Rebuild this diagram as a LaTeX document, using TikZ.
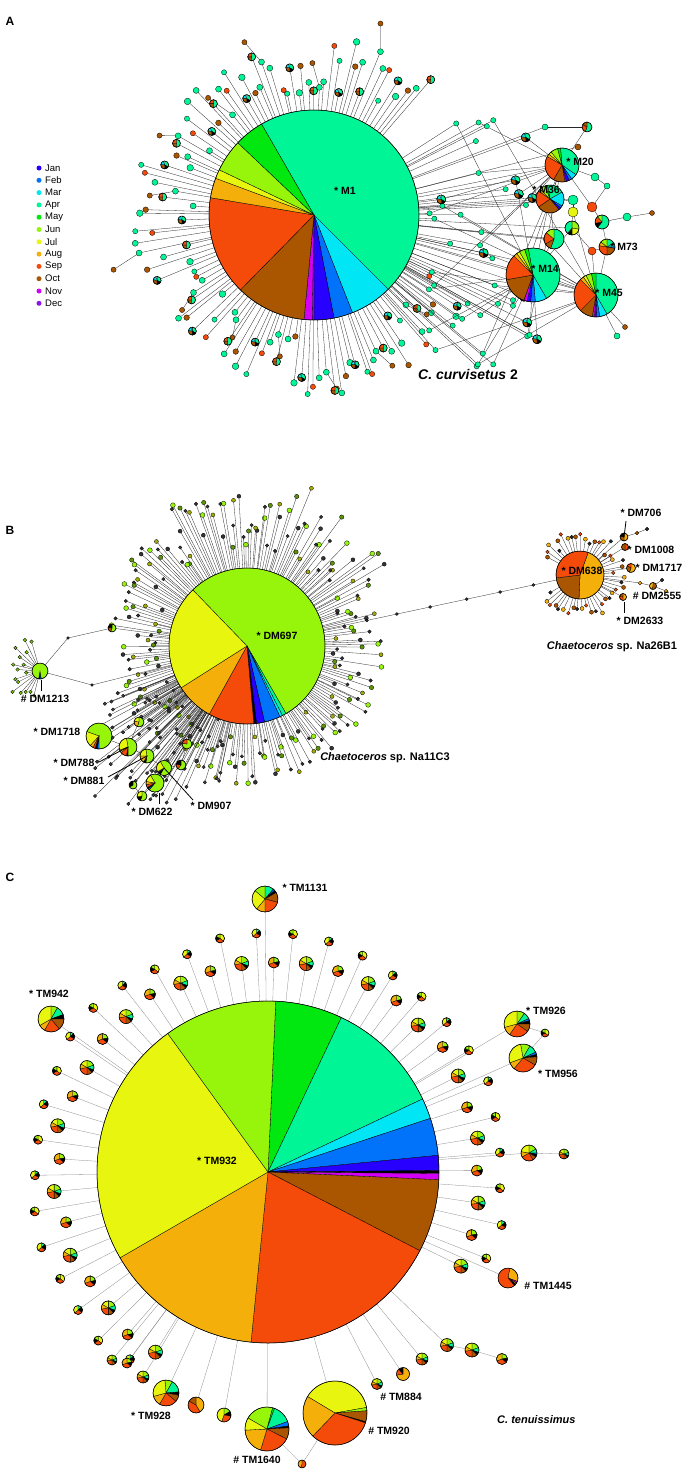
\documentclass[tikz,border=0pt]{standalone}
\usepackage{fontspec}
\setmainfont{Liberation Sans}
\usetikzlibrary{calc}

% month colours
\definecolor{mJan}{RGB}{40,0,255}
\definecolor{mFeb}{RGB}{0,115,250}
\definecolor{mMar}{RGB}{0,230,245}
\definecolor{mApr}{RGB}{0,245,150}
\definecolor{mMay}{RGB}{0,232,15}
\definecolor{mJun}{RGB}{150,245,10}
\definecolor{mJul}{RGB}{232,245,15}
\definecolor{mAug}{RGB}{245,175,10}
\definecolor{mSep}{RGB}{245,75,10}
\definecolor{mOct}{RGB}{170,85,0}
\definecolor{mNov}{RGB}{210,0,245}
\definecolor{mDec}{RGB}{140,20,230}

\tikzset{
  link/.style={line width=.3pt, black!85},
  glink/.style={line width=.3pt, black!45},
  dot/.style={draw=black, line width=.3pt},
  lab/.style={font=\bfseries\fontsize{10.5}{12}\selectfont, inner sep=0pt},
  species/.style={font=\bfseries\fontsize{11}{13}\selectfont, inner sep=0pt},
  panel/.style={font=\bfseries\fontsize{12}{14}\selectfont, inner sep=0pt},
  legtext/.style={font=\fontsize{9.5}{11}\selectfont, anchor=west, inner sep=0pt},
}

% pie: name, centre, radius, start angle, slices colour/degrees (clockwise)
\newcommand{\hapie}[5]{%
  \coordinate (#1) at (#2);
  \xdef\pieang{#4}%
  \edef\pielist{#5}%
  \foreach \slc/\sla in \pielist {%
    \pgfmathsetmacro\pieend{\pieang-\sla}%
    \filldraw[fill=\slc, draw=black, line width=.3pt] (#1) -- ++(\pieang:#3) arc[start angle=\pieang, end angle=\pieend, radius=#3] -- cycle;
    \xdef\pieang{\pieend}%
  }%
  \draw[line width=.5pt] (#1) circle (#3);
}

\def\mixA{mJun/70,mApr/40,black/25,mOct/45,mSep/80,mAug/40,mJul/60}
\def\mixB{mJul/130,mSep/110,black/60,mJun/60}
\def\mixC{mJun/80,black/50,mSep/120,mAug/110}
\def\mixD{mApr/50,black/70,mSep/110,mJul/130}
\def\mixE{mApr/180,mOct/90,mSep/90}
\def\mixF{mApr/120,black/60,mOct/100,mMar/60}

\begin{document}
\begin{tikzpicture}[x=1pt,y=1pt]
\useasboundingbox (0,0) rectangle (685,-1469);

%% ---------------- A ----------------
\node[panel] (labA) at (10,-21) {A};
\foreach \m [count=\k from 0] in {Jan,Feb,Mar,Apr,May,Jun,Jul,Aug,Sep,Oct,Nov,Dec}{
  \fill[m\m] (39,-168-12.3*\k) circle (2.5);
  \node[legtext] (leg\m) at (45,-168-12.3*\k) {\m};
}

\coordinate (m1) at (314,-215);
\coordinate (m20) at (562,-165);
\coordinate (m36) at (550,-199);
\coordinate (m14) at (533,-275);
\coordinate (m45) at (596,-295);
\coordinate (m73) at (607,-247);

% satellites round M1
\pgfmathsetseed{11}
\foreach \i in {1,...,124}{
  \pgfmathsetmacro\ang{46+\i*2.3+rnd*1.4}
  \pgfmathsetmacro\dist{120+rnd*62}
  \coordinate (a\i) at ([shift={(\ang:\dist)}]m1);
  \draw[link] (m1) -- (a\i);
  \pgfmathtruncatemacro\pk{mod(\i,9)}
  \ifnum\pk=0
    \pgfmathsetmacro\dd{\dist+16+rnd*14}
    \coordinate (b\i) at ([shift={(\ang+3:\dd)}]m1);
    \draw[link] (a\i) -- (b\i);
    \filldraw[fill=mOct, dot] (b\i) circle (2.6);
  \fi
  \ifcase\pk
    \filldraw[fill=mApr, dot] (a\i) circle (3);
  \or \hapie{q\i}{a\i}{4}{90}{\mixE}
  \or \filldraw[fill=mApr, dot] (a\i) circle (3);
  \or \filldraw[fill=mOct, dot] (a\i) circle (2.8);
  \or \filldraw[fill=mApr, dot] (a\i) circle (3.3);
  \or \hapie{q\i}{a\i}{4}{90}{\mixF}
  \or \filldraw[fill=mApr, dot] (a\i) circle (2.6);
  \or \filldraw[fill=mSep, dot] (a\i) circle (2.6);
  \or \filldraw[fill=mApr, dot] (a\i) circle (3);
  \fi
}

% links into the right cluster
\pgfmathsetseed{23}
\foreach \i in {1,...,46}{
  \pgfmathsetmacro\mx{428+rnd*120}
  \pgfmathsetmacro\my{-118-rnd*250}
  \coordinate (r\i) at (\mx,\my);
  \draw[link] (m1) -- (r\i);
  \pgfmathtruncatemacro\pk{mod(\i,4)}
  \ifcase\pk \draw[link] (r\i) -- (m14);
  \or \draw[link] (r\i) -- (m20);
  \or
  \or \draw[link] (r\i) -- (m45);
  \fi
}
\foreach \n/\x/\y in {k1/545/127,k2/587/127,k3/578/147,k4/595/177,k5/607/186,k6/592/207,
  k7/602/222,k8/627/217,k9/652/213,k10/573/200,k11/573/212,k12/592/251,k13/617/336,
  k14/625/327,p1/554/239,p2/572/228}{
  \coordinate (\n) at (\x,-\y);
}
\foreach \s/\t in {m1/m14,m1/m45,m1/m36,m1/m20,m1/p1,m1/p2,m1/k1,m1/k3,m1/k10,
  k1/k2,k2/m20,m20/k4,k4/k5,m20/m36,m36/p1,m36/k10,k10/k11,p1/m14,p2/m14,m14/m45,
  k7/m73,k7/k8,k8/k9,m73/m45,k6/k7,k12/m45,m45/k13,m45/k14,m20/k6,k11/m45,p2/k12,
  m36/m14,k5/k6,k11/p2,m73/k12}{
  \draw[link] (\s) -- (\t);
}
\pgfmathsetseed{23}
\foreach \i in {1,...,46}{
  \pgfmathsetmacro\mx{428+rnd*120}
  \pgfmathsetmacro\my{-118-rnd*250}
  \pgfmathtruncatemacro\pk{mod(\i,5)}
  \ifnum\pk=0 \hapie{rr\i}{r\i}{4.5}{90}{\mixF}
  \else \filldraw[fill=mApr, dot] (r\i) circle (2.6); \fi
}
\foreach \n/\r/\f in {k1/3/mApr,k3/3/mOct,k4/4/mApr,k5/3/mApr,k6/5/mSep,k8/4/mApr,
  k9/2.5/mOct,k10/5/mApr,k11/5/mJul,k12/4/mSep,k13/3/mApr,k14/2.5/mOct}{
  \filldraw[fill=\f, dot] (\n) circle (\r);
}
\hapie{k2p}{k2}{5}{90}{mApr/200,mSep/100,mOct/60}
\hapie{k7p}{k7}{7}{90}{mApr/220,black/40,mSep/60,mJun/40}
\hapie{p1p}{p1}{10}{90}{mApr/200,mOct/40,mSep/70,mJun/50}
\hapie{p2p}{p2}{7}{90}{mJun/100,mJul/80,black/40,mApr/140}
\hapie{m20p}{m20}{17}{95}{mApr/130,mMar/20,mFeb/10,mJan/10,mNov/5,mOct/40,mSep/90,mAug/10,mJul/10,mJun/25,mMay/10}
\hapie{m36p}{m36}{14}{100}{mApr/70,mMar/60,mFeb/10,mJan/10,mOct/95,mSep/70,mAug/10,mJun/25,mMay/10}
\hapie{m14p}{m14}{27}{100}{mApr/160,mMar/25,mFeb/10,mJan/8,mNov/7,mOct/60,mSep/55,mAug/8,mJul/7,mJun/12,mMay/8}
\hapie{m45p}{m45}{22}{90}{mApr/150,mMar/20,mFeb/8,mJan/6,mNov/6,mOct/35,mSep/90,mAug/10,mJul/8,mJun/15,mMay/12}
\hapie{m73p}{m73}{8}{90}{mApr/60,mMar/30,mFeb/10,mOct/80,mSep/100,mAug/30,mJun/50}
\hapie{m1p}{m1}{105}{120}{mApr/165,mMar/23.5,mFeb/10.5,mJan/11,mDec/1,mNov/4.5,mOct/39,mSep/55,mAug/11,mJul/5,mJun/18,mMay/16.5}

\node[lab] (tM1) at (345,-191) {* M1};
\node[lab] (tM20) at (580,-162) {* M20};
\node[lab] (tM36) at (546,-190) {* M36};
\node[lab] (tM14) at (545,-269) {* M14};
\node[lab] (tM45) at (609,-293) {* M45};
\node[lab] (tM73) at (624,-247) {* M73};
\node[species, font=\bfseries\fontsize{14}{16}\selectfont] (spA) at (468,-374) {\itshape C. curvisetus\/ \upshape 2};

%% ---------------- B ----------------
\node[panel] (labB) at (10,-530) {B};
\coordinate (dm697) at (247,-646);
\coordinate (dm638) at (580,-575);

\draw[link] (dm697) -- (dm638);
\foreach \t [count=\j] in {0.36,0.45,0.55,0.66,0.76,0.86}{
  \coordinate (h\j) at ($(dm697)!\t!(dm638)$);
}

% satellites round DM697
\pgfmathsetseed{5}
\foreach \i in {1,...,240}{
  \pgfmathsetmacro\ang{\i*1.5+rnd*1.2}
  \pgfmathsetmacro\dist{86+rnd*52+(sin(\ang)>0.4)*rnd*34}
  \coordinate (d\i) at ([shift={(\ang:\dist)}]dm697);
  \draw[link] (dm697) -- (d\i);
  \pgfmathtruncatemacro\pk{mod(\i,6)}
  \ifcase\pk \filldraw[fill=mJun, dot] (d\i) circle (2.4);
  \or \filldraw[fill=black!80, dot] (d\i) circle (1.8);
  \or \filldraw[fill=black!80, dot] (d\i) circle (2);
  \or \filldraw[fill=mJul!70!black, dot] (d\i) circle (2);
  \or \filldraw[fill=black!80, dot] (d\i) circle (1.7);
  \or \filldraw[fill=mJun!60!black, dot] (d\i) circle (2.2);
  \fi
}

% lower left cluster
\pgfmathsetseed{31}
\foreach \i in {1,...,70}{
  \pgfmathsetmacro\mx{92+rnd*140}
  \pgfmathsetmacro\my{-690-rnd*122}
  \coordinate (l\i) at (\mx,\my);
  \draw[link] (dm697) -- (l\i);
  \filldraw[fill=black!75, dot] (l\i) circle (1.7);
}
\coordinate (dm1213) at (40,-671);
\coordinate (j1) at (68,-638);
\coordinate (j2) at (92,-685);
\coordinate (j3) at (112,-628);
\foreach \s/\t in {dm697/j3,j3/j1,j1/dm1213,dm697/j2,j2/dm1213}{
  \draw[link] (\s) -- (\t);
}
\foreach \n in {j1,j2}{
  \filldraw[fill=black!80, dot] (\n) circle (1.4);
}
\hapie{j3p}{j3}{4}{90}{mJun/200,mOct/80,black/80}
\pgfmathsetseed{9}
\foreach \i in {1,...,16}{
  \pgfmathsetmacro\ang{95+\i*10+rnd*4}
  \pgfmathsetmacro\dist{13+rnd*24}
  \coordinate (e\i) at ([shift={(\ang:\dist)}]dm1213);
  \draw[link] (dm1213) -- (e\i);
  \filldraw[fill=mJun!80!black, dot] (e\i) circle (1.8);
}
\foreach \n/\x/\y/\r in {dm1718/99/736/13,dm788/128/747/9,dm881/147/756/7,
  dm622/155/783/9,dm907/164/768/7.5,g1/139/722/5,g2/181/765/5,g3/187/744/5,
  g4/142/796/5,g5/133/785/4}{
  \coordinate (\n) at (\x,-\y);
  \draw[link] (dm697) -- (\n);
}
\foreach \s/\t in {dm1718/dm788,dm788/dm881,dm881/dm907,dm907/dm622,dm622/g4,g4/g5,g1/dm788,g2/dm907,g3/g2}{
  \draw[link] (\s) -- (\t);
}
\foreach \j in {1,...,6}{
  \filldraw[fill=black!80, dot] (h\j) circle (1.5);
}
\hapie{dm1213p}{dm1213}{8}{-80}{mFeb/10,black/10,mJun/340}
\hapie{dm1718p}{dm1718}{13}{160}{mJun/250,mFeb/8,black/10,mSep/10,mAug/15,mJul/67}
\hapie{dm788p}{dm788}{9}{100}{mJun/190,black/10,mSep/40,mAug/20,mJul/100}
\hapie{dm881p}{dm881}{7}{100}{mJun/200,black/20,mAug/60,mJul/80}
\hapie{dm622p}{dm622}{9}{120}{mJun/250,mFeb/10,black/10,mSep/20,mAug/20,mJul/50}
\hapie{dm907p}{dm907}{7.5}{120}{mJun/240,black/20,mFeb/10,mJul/90}
\hapie{g1p}{g1}{5}{90}{mJun/200,mAug/80,mJul/80}
\hapie{g2p}{g2}{5}{90}{mJun/220,mSep/60,black/80}
\hapie{g3p}{g3}{5}{90}{mJun/280,mSep/80}
\hapie{g4p}{g4}{5}{90}{mJun/200,black/60,mJul/100}
\hapie{g5p}{g5}{4}{90}{mJun/240,black/120}
\hapie{dm697p}{dm697}{78}{134}{mJun/194,mApr/3,mMar/2,mFeb/12,mJan/6,black/2,mSep/34,mAug/28.6,mJul/78.4}

% satellites round DM638
\pgfmathsetseed{41}
\foreach \i in {1,...,44}{
  \pgfmathsetmacro\ang{-158+\i*7+rnd*3}
  \pgfmathsetmacro\dist{31+rnd*15}
  \coordinate (o\i) at ([shift={(\ang:\dist)}]dm638);
  \draw[link] (dm638) -- (o\i);
  \pgfmathtruncatemacro\pk{mod(\i,4)}
  \ifcase\pk \filldraw[fill=mOct, dot] (o\i) circle (2);
  \or \filldraw[fill=black!85, dot] (o\i) circle (1.8);
  \or \filldraw[fill=mAug, dot] (o\i) circle (2);
  \or \filldraw[fill=mSep, dot] (o\i) circle (1.8);
  \fi
}
\foreach \n/\x/\y in {dm706/624/537,dm1008/625/547,dm1717/631/568,dm2555/653/586,
  dm2633/623/597,n1/637/533,n2/647/529,n3/640/583,n4/662/580,n5/666/591}{
  \coordinate (\n) at (\x,-\y);
}
\foreach \s/\t in {dm638/dm706,dm638/dm1008,dm638/dm1717,dm638/dm2633,dm638/n3,
  n3/dm2555,dm2555/n4,dm2555/n5,dm706/n1,n1/n2}{
  \draw[link] (\s) -- (\t);
}
\foreach \n/\f in {n1/mOct,n2/black!85,n3/mAug,n4/black!85,n5/mAug}{
  \filldraw[fill=\f, dot] (\n) circle (1.8);
}
\hapie{dm706p}{dm706}{4}{90}{mAug/180,mOct/100,black/80}
\hapie{dm1008p}{dm1008}{3.5}{90}{mSep/180,mOct/180}
\hapie{dm1717p}{dm1717}{4.5}{90}{mAug/200,mOct/100,mSep/60}
\hapie{dm2555p}{dm2555}{3.5}{90}{mOct/200,mAug/160}
\hapie{dm2633p}{dm2633}{3.5}{90}{mAug/180,mSep/100,mOct/80}
\hapie{dm638p}{dm638}{24}{70}{mAug/162.4,mOct/80.6,mSep/117}

\node[lab] (tDM697) at (277,-636) {* DM697};
\node[lab] (tDM638) at (582,-571) {* DM638};
\node[lab] (tDM706) at (641,-513) {* DM706};
\node[lab] (tDM1008) at (651,-550) {* DM1008};
\node[lab] (tDM1717) at (659,-568) {* DM1717};
\node[lab] (tDM2555) at (657,-596) {\# DM2555};
\node[lab] (tDM2633) at (640,-621) {* DM2633};
\draw[line width=.8pt] (626,-521) -- (dm706);
\draw[line width=.8pt] (624,-602) -- (624,-613);
\node[lab] (tDM1213) at (45,-699) {\# DM1213};
\node[lab] (tDM1718) at (57,-732) {* DM1718};
\node[lab] (tDM788) at (74,-763) {* DM788};
\node[lab] (tDM881) at (84,-781) {* DM881};
\node[lab] (tDM622) at (152,-812) {* DM622};
\node[lab] (tDM907) at (211,-806) {* DM907};
\draw[line width=.8pt] (41,-680) -- (41,-691);
\draw[line width=.8pt] (99,-762) -- (dm788);
\draw[line width=.8pt] (108,-777) -- (dm881);
\draw[line width=.8pt] (159,-793) -- (159,-804);
\draw[line width=.8pt] (193,-800) -- (dm907);
\node[species] (spB1) at (385,-758) {\itshape Chaetoceros\/ \upshape sp. Na11C3};
\node[species] (spB2) at (612,-647) {\itshape Chaetoceros\/ \upshape sp. Na26B1};

%% ---------------- C ----------------
\node[panel] (labC) at (10,-877) {C};
\coordinate (tm932) at (268,-1172);

\pgfmathsetseed{17}
\foreach \i in {0,...,60}{
  \pgfmathsetmacro\ang{-26+\i*4.4}
  \pgfmathsetmacro\dist{208+mod(\i,2)*24+rnd*8}
  \coordinate (t\i) at ([shift={(\ang:\dist)}]tm932);
  \draw[glink] (tm932) -- (t\i);
}
\foreach \n/\x/\y in {tm1131/265/899,tm942/51/1019,tm926/517/1024,tm956/523/1058,
  tm1445/508/1278,tm928/166/1393,tm1640/267/1429,tm920/335/1413,tm884/377/1384,
  u1/112/1360,u2/127/1363,u3/143/1377,u4/196/1405,u5/224/1415,u6/422/1359,
  u7/403/1374,u8/447/1345,u9/472/1350,u10/502/1359,u11/529/1153,u12/564/1154}{
  \coordinate (\n) at (\x,-\y);
}
\coordinate (u13) at (302,-1464);
\coordinate (u14) at (545,-1033);
\foreach \n in {tm1131,tm942,tm926,tm956,tm1445,tm928,tm1640,tm920,tm884,u1,u2,u3,
  u4,u5,u6,u7,u8,u11}{
  \draw[glink] (tm932) -- (\n);
}
\foreach \s/\t in {u8/u9,u9/u10,u11/u12,tm920/u13,tm1640/u13,tm926/u14,u14/tm956}{
  \draw[glink] (\s) -- (\t);
}
\foreach \i in {0,...,60}{
  \pgfmathtruncatemacro\pk{mod(\i,4)}
  \ifcase\pk \hapie{s\i}{t\i}{7}{90}{\mixA}
  \or \hapie{s\i}{t\i}{4.5}{90}{\mixB}
  \or \hapie{s\i}{t\i}{5.5}{90}{\mixC}
  \or \hapie{s\i}{t\i}{4.5}{90}{\mixD}
  \fi
}
\hapie{u1p}{u1}{5}{90}{\mixA}
\hapie{u2p}{u2}{5}{90}{\mixC}
\hapie{u3p}{u3}{6}{90}{\mixA}
\hapie{u4p}{u4}{8}{90}{mAug/150,mSep/150,mOct/60}
\hapie{u5p}{u5}{7}{90}{mJun/60,black/40,mSep/100,mJul/160}
\hapie{u6p}{u6}{6}{90}{\mixA}
\hapie{u7p}{u7}{6.5}{90}{mAug/260,mSep/60,black/40}
\hapie{u8p}{u8}{6.5}{90}{\mixA}
\hapie{u9p}{u9}{7}{90}{\mixA}
\hapie{u10p}{u10}{5.5}{90}{\mixC}
\hapie{u11p}{u11}{8}{90}{mJun/60,mApr/30,mFeb/10,black/20,mOct/30,mSep/90,mAug/40,mJul/80}
\hapie{u12p}{u12}{5}{90}{\mixA}
\hapie{u13p}{u13}{4}{90}{mSep/200,mAug/160}
\hapie{u14p}{u14}{4}{90}{\mixB}
\hapie{tm884p}{tm884}{5.5}{90}{\mixA}
\hapie{tm1131p}{tm1131}{13}{90}{mApr/40,mFeb/8,black/12,mOct/45,mSep/75,mAug/40,mJul/90,mJun/50}
\hapie{tm942p}{tm942}{13}{90}{mJun/30,mApr/40,black/20,mOct/50,mSep/70,mAug/30,mJul/120}
\hapie{tm926p}{tm926}{13}{90}{mJun/35,mApr/30,mFeb/10,black/15,mOct/35,mSep/90,mAug/40,mJul/105}
\hapie{tm956p}{tm956}{14}{100}{mJun/40,mApr/35,mFeb/10,black/10,mOct/35,mSep/100,mAug/30,mJul/100}
\hapie{tm1445p}{tm1445}{10}{80}{mAug/100,mNov/10,mOct/10,black/10,mSep/230}
\hapie{tm928p}{tm928}{13}{95}{mJun/35,mApr/55,black/15,mOct/30,mSep/80,mAug/45,mJul/100}
\hapie{tm1640p}{tm1640}{22}{150}{mJun/75,mMay/5,mApr/50,mFeb/12,black/5,mOct/30,mSep/80,mAug/70,mJul/33}
\hapie{tm920p}{tm920}{32}{149}{mJul/139,mJun/6,mOct/20,black/2,mSep/116,mAug/77}
\hapie{tm932p}{tm932}{171}{87.4}{mMay/22.8,mApr/39.3,mMar/7,mFeb/12.7,mJan/5.1,black/1,mNov/2.1,mOct/24.8,mSep/68.3,mAug/54.2,mJul/84.2,mJun/38.5}

\node[lab] (tTM932) at (217,-1161) {* TM932};
\node[lab] (tTM1131) at (305,-888) {* TM1131};
\node[lab] (tTM942) at (49,-994) {* TM942};
\node[lab] (tTM926) at (546,-1011) {* TM926};
\node[lab] (tTM956) at (558,-1074) {* TM956};
\node[lab] (tTM1445) at (548,-1286) {\# TM1445};
\node[lab] (tTM928) at (151,-1416) {* TM928};
\node[lab] (tTM1640) at (257,-1460) {\# TM1640};
\node[lab] (tTM920) at (389,-1431) {\# TM920};
\node[lab] (tTM884) at (401,-1397) {\# TM884};
\node[species, anchor=west] (spC) at (497,-1420) {\itshape C. tenuissimus};
\end{tikzpicture}
\end{document}
